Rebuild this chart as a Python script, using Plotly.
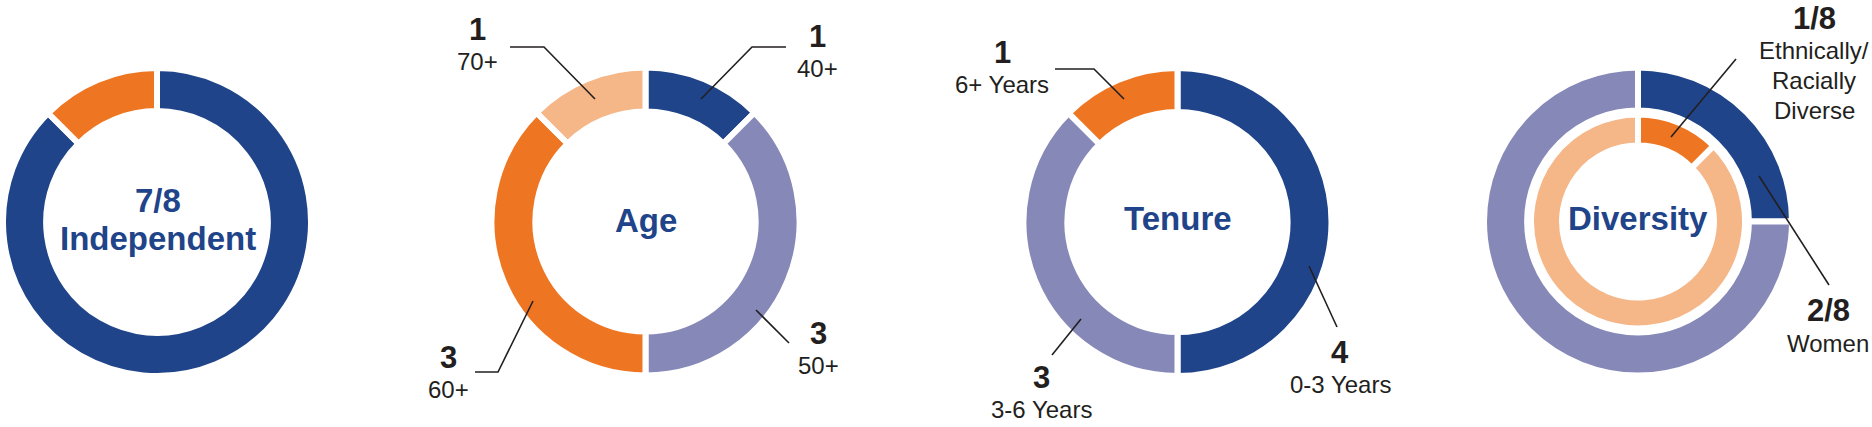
import plotly.graph_objects as go

# ---------------- data ----------------
independent_labels = ["Independent", "Not independent"]
independent_values = [7, 1]

age_labels = ["40+", "50+", "60+", "70+"]
age_values = [1, 3, 3, 1]

tenure_labels = ["0-3 Years", "3-6 Years", "6+ Years"]
tenure_values = [4, 3, 1]

women_labels = ["Women", "Men"]
women_values = [2, 6]

ethnic_labels = ["Ethnically/Racially Diverse", "Other"]
ethnic_values = [1, 7]

# ---------------- style ----------------
W, H = 1872, 427
BLUE = "#1F4489"
ORANGE = "#EE7623"
LAV = "#8689B7"
LORANGE = "#F5B688"
TXT = "#231F20"
FONT = "Liberation Sans, Arial, sans-serif"
GAP = 6


def dom(cx, cy, r):
    return dict(x=[(cx - r) / W, (cx + r) / W], y=[(H - cy - r) / H, (H - cy + r) / H])


def px(x):
    return x / W


def py(y):
    return 1 - y / H


fig = go.Figure()


def add_pie(labels, values, colors, cx, cy, r, hole):
    fig.add_trace(go.Pie(
        labels=labels, values=values, sort=False, direction="clockwise", rotation=0,
        hole=hole, textinfo="none", hoverinfo="label+value",
        marker=dict(colors=colors, line=dict(color="white", width=GAP)),
        domain=dom(cx, cy, r), showlegend=False,
    ))


add_pie(independent_labels, independent_values, [BLUE, ORANGE], 157, 222, 154, 0.72)
add_pie(age_labels, age_values, [BLUE, LAV, ORANGE, LORANGE], 645.5, 221.5, 154, 0.715)
add_pie(tenure_labels, tenure_values, [BLUE, LAV, ORANGE], 1177.5, 222, 154, 0.715)
add_pie(women_labels, women_values, [BLUE, LAV], 1638, 221.5, 154, 0.72)
add_pie(ethnic_labels, ethnic_values, [ORANGE, LORANGE], 1638, 221.5, 107, 0.71)

annotations = []


def txt(text, x, y, size, bold=False, color=TXT):
    annotations.append(dict(
        text=f"<b>{text}</b>" if bold else text, x=px(x), y=py(y), xref="paper", yref="paper",
        xanchor="center", yanchor="middle", showarrow=False,
        font=dict(family=FONT, size=size, color=color),
    ))


# centre titles
txt(f"{independent_values[0]}/{sum(independent_values)}", 158, 200, 33, True, BLUE)
txt(independent_labels[0], 158, 239, 33, True, BLUE)
txt("Age", 646, 220, 33, True, BLUE)
txt("Tenure", 1178, 218, 33, True, BLUE)
txt("Diversity", 1638, 218, 33, True, BLUE)

# age callouts
age_pos = [(817, 37), (818, 333), (448, 357), (478, 30)]
for lab, val, (x, y) in zip(age_labels, age_values, age_pos):
    txt(str(val), x, y, 31, True)
    txt(lab, x, y + 32, 24)

tenure_pos = [(1340, 352), (1041, 377), (1002, 52)]
for lab, val, (x, y) in zip(tenure_labels, tenure_values, tenure_pos):
    txt(str(val), x, y, 31, True)
    txt(lab, x, y + 32, 24)

txt(f"{ethnic_values[0]}/{sum(ethnic_values)}", 1814, 18, 31, True)
for i, line in enumerate(["Ethnically/", "Racially", "Diverse"]):
    txt(line, 1814, 50 + 30 * i, 24)
txt(f"{women_values[0]}/{sum(women_values)}", 1828, 310, 31, True)
txt(women_labels[0], 1828, 343, 24)

# leader lines (pixel coordinates)
leaders = [
    [(510, 47), (544, 47), (595, 99)],
    [(786, 47), (752, 47), (701, 99)],
    [(756, 310), (789, 343)],
    [(533, 301), (498, 372), (475, 372)],
    [(1055, 69), (1094, 69), (1124, 99)],
    [(1309, 266), (1337, 327)],
    [(1081, 319), (1052, 355)],
    [(1736, 59), (1671, 137)],
    [(1759, 176), (1829, 285)],
]
shapes = []
for pts in leaders:
    path = "M " + " L ".join(f"{px(x):.6f},{py(y):.6f}" for x, y in pts)
    shapes.append(dict(type="path", path=path, xref="paper", yref="paper",
                       line=dict(color=TXT, width=1.6)))

fig.update_layout(
    width=W, height=H, margin=dict(l=0, r=0, t=0, b=0),
    paper_bgcolor="white", plot_bgcolor="white",
    annotations=annotations, shapes=shapes, showlegend=False,
)

fig.write_html(
    "out.html",
    config={"displayModeBar": False},
    post_script="document.body.style.margin='0';document.body.style.overflow='hidden';"
                "document.documentElement.style.overflow='hidden';",
)
